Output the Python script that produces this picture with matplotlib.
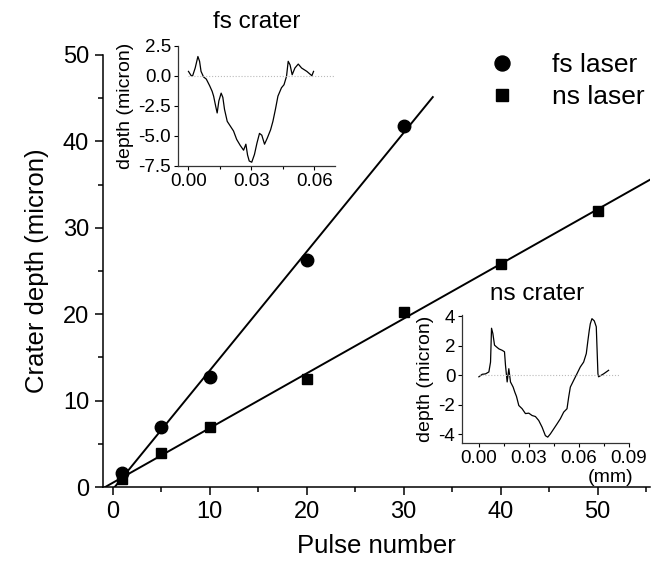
import numpy as np
import matplotlib
matplotlib.use("Agg")
import matplotlib.pyplot as plt
from matplotlib.ticker import MultipleLocator, FormatStrFormatter

plt.rcParams['font.family'] = ['Liberation Sans', 'DejaVu Sans']
plt.rcParams['axes.unicode_minus'] = False

# main data: crater depth vs pulse number
fs_pulses = [1, 5, 10, 20, 30]
fs_depth = [1.6, 7.0, 12.7, 26.3, 41.8]
ns_pulses = [1, 5, 10, 20, 30, 40, 50]
ns_depth = [0.9, 3.9, 6.9, 12.5, 20.3, 25.8, 31.9]

# inset profiles (x in mm, depth in micron)
fs_prof_x = [0.0, 0.0013, 0.002, 0.0032, 0.0045, 0.0053, 0.006, 0.0072, 0.0085, 0.0101,
             0.0113, 0.012, 0.013, 0.0137, 0.0145, 0.0156, 0.0164, 0.0172, 0.0185, 0.020,
             0.0215, 0.023, 0.0247, 0.0263, 0.0274, 0.0282, 0.029, 0.0302, 0.0315, 0.0327,
             0.0339, 0.035, 0.0363, 0.0376, 0.0392, 0.0403, 0.0415, 0.0427, 0.0444, 0.0456,
             0.0468, 0.0476, 0.0485, 0.0495, 0.0508, 0.0524, 0.054, 0.0565, 0.0589, 0.0597]
fs_prof_y = [0.36, 0.0, 0.0, 0.64, 1.6, 1.2, 0.36, -0.1, -0.28, -0.83,
             -1.3, -1.7, -2.55, -3.1, -2.1, -1.45, -1.8, -2.8, -3.8, -4.2,
             -4.6, -5.3, -5.8, -6.2, -5.7, -6.6, -7.1, -7.2, -6.55, -5.6,
             -4.8, -4.95, -5.7, -5.2, -4.5, -3.8, -2.8, -1.7, -1.0, -0.75,
             -0.05, 1.2, 0.9, 0.08, 0.64, 0.97, 0.64, 0.36, 0.0, 0.36]

ns_prof_x = [0.0, 0.002, 0.004, 0.006, 0.007, 0.0076, 0.0084, 0.0094, 0.0106, 0.012,
             0.014, 0.0154, 0.016, 0.017, 0.018, 0.019, 0.0206, 0.0216, 0.0226, 0.024,
             0.026, 0.028, 0.030, 0.032, 0.034, 0.036, 0.038, 0.040, 0.0414, 0.043,
             0.045, 0.047, 0.049, 0.051, 0.053, 0.054, 0.055, 0.057, 0.059, 0.061,
             0.063, 0.0646, 0.0656, 0.0664, 0.067, 0.068, 0.0694, 0.0706, 0.0716, 0.072,
             0.075, 0.078]
ns_prof_y = [-0.1, 0.07, 0.1, 0.23, 0.9, 3.2, 2.84, 2.05, 1.93, 1.8,
             1.7, 1.6, 0.68, -0.45, 0.45, -0.45, -0.8, -1.14, -1.43, -2.05,
             -2.27, -2.6, -2.57, -2.73, -2.8, -3.07, -3.52, -4.1, -4.2, -3.98,
             -3.64, -3.3, -2.95, -2.5, -2.27, -1.48, -0.8, -0.34, 0.11, 0.57,
             0.9, 1.48, 2.39, 3.07, 3.5, 3.85, 3.7, 3.3, 0.1, -0.1,
             0.1, 0.34]

fig = plt.figure(figsize=(6.52, 5.64), dpi=100)
ax = fig.add_axes([0.158, 0.1365, 0.839, 0.766])

# linear fits
fs_fit = np.polyfit(fs_pulses, fs_depth, 1)
ns_fit = np.polyfit(ns_pulses, ns_depth, 1)
xf = np.array([-1, 33])
xn = np.array([-1, 55.4])
ax.plot(xf, np.polyval(fs_fit, xf), color='black', lw=1.4)
ax.plot(xn, np.polyval(ns_fit, xn), color='black', lw=1.4)

ax.plot(fs_pulses, fs_depth, 'o', color='black', ms=9, label='fs laser')
ax.plot(ns_pulses, ns_depth, 's', color='black', ms=7.5, label='ns laser')

ax.set_xlim(-1, 55.4)
ax.set_ylim(0, 50)
ax.xaxis.set_major_locator(MultipleLocator(10))
ax.xaxis.set_minor_locator(MultipleLocator(5))
ax.yaxis.set_major_locator(MultipleLocator(10))
ax.yaxis.set_minor_locator(MultipleLocator(5))
ax.spines['top'].set_visible(False)
ax.spines['right'].set_visible(False)
for s in ['left', 'bottom']:
    ax.spines[s].set_linewidth(1.1)
ax.tick_params(which='major', direction='out', length=6, width=1.1, labelsize=17, pad=4)
ax.tick_params(which='minor', direction='out', length=3.5, width=1.1)
ax.set_xlabel('Pulse number', fontsize=18.5, labelpad=8)
ax.set_ylabel('Crater depth (micron)', fontsize=18.5, labelpad=10)

leg = ax.legend(loc='upper right', bbox_to_anchor=(1.009, 0.929), bbox_transform=fig.transFigure,
                frameon=False, fontsize=19, markerscale=1.2, handlelength=1.2,
                handletextpad=1.3, labelspacing=0.3, borderpad=0)

# fs crater inset
ax1 = fig.add_axes([0.273, 0.706, 0.241, 0.213])
ax1.plot(fs_prof_x, fs_prof_y, color='black', lw=0.9)
ax1.plot([0, 0.07], [0, 0], ls=':', color='#bbbbbb', lw=0.8)
ax1.set_xlim(-0.005, 0.07)
ax1.set_ylim(-7.5, 2.5)
ax1.set_xticks([0, 0.03, 0.06])
ax1.xaxis.set_minor_locator(MultipleLocator(0.015))
ax1.set_yticks([-7.5, -5.0, -2.5, 0.0, 2.5])
ax1.xaxis.set_major_formatter(FormatStrFormatter('%.2f'))
ax1.yaxis.set_major_formatter(FormatStrFormatter('%.1f'))
ax1.set_ylabel('depth (micron)', fontsize=14, labelpad=3)
ax1.set_title('fs crater', fontsize=17.5, pad=13)

# ns crater inset
ax2 = fig.add_axes([0.709, 0.2145, 0.255, 0.227])
ax2.plot(ns_prof_x, ns_prof_y, color='black', lw=0.9)
ax2.plot([0, 0.085], [0, 0], ls=':', color='#bbbbbb', lw=0.8)
ax2.set_xlim(-0.01, 0.09)
ax2.set_ylim(-4.6, 4.1)
ax2.set_xticks([0, 0.03, 0.06, 0.09])
ax2.xaxis.set_minor_locator(MultipleLocator(0.015))
ax2.set_yticks([-4, -2, 0, 2, 4])
ax2.xaxis.set_major_formatter(FormatStrFormatter('%.2f'))
ax2.set_ylabel('depth (micron)', fontsize=14, labelpad=3)
ax2.set_xlabel('(mm)', fontsize=14, labelpad=0)
ax2.xaxis.set_label_coords(1.03, -0.2)
ax2.xaxis.label.set_horizontalalignment('right')
ax2.set_title('ns crater', fontsize=17.5, pad=11, x=0.45)

for a in (ax1, ax2):
    a.spines['top'].set_visible(False)
    a.spines['right'].set_visible(False)
    for s in ['left', 'bottom']:
        a.spines[s].set_linewidth(0.9)
        a.spines[s].set_color('#333333')
    a.tick_params(which='major', direction='out', length=3, width=0.8, labelsize=13.5, pad=2)
    a.tick_params(which='minor', direction='out', length=2, width=0.8)

fig.savefig('out.png', dpi=100)
